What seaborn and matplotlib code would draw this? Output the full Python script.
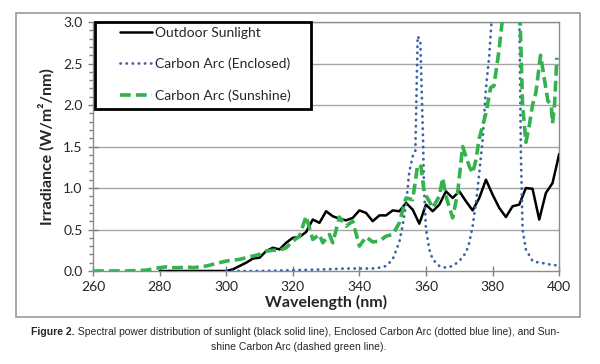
import matplotlib
matplotlib.use("Agg")
import matplotlib.pyplot as plt
import seaborn as sns
from matplotlib.patches import Rectangle
from matplotlib.ticker import MultipleLocator

# Outdoor sunlight
sun_nm = [280, 290, 300, 302, 304, 306, 308, 310, 312, 314, 316, 318, 320, 322, 324, 326,
          328, 330, 332, 334, 336, 338, 340, 342, 344, 346, 348, 350, 352, 354, 356, 358,
          360, 362, 364, 366, 368, 370, 372, 374, 376, 378, 380, 382, 384, 386, 388, 390,
          392, 394, 396, 398, 400]
sun_val = [0.0, 0.0, 0.0, 0.02, 0.06, 0.1, 0.15, 0.16, 0.24, 0.28, 0.26, 0.34, 0.4, 0.41, 0.47, 0.62,
           0.58, 0.72, 0.66, 0.63, 0.61, 0.64, 0.73, 0.7, 0.6, 0.67, 0.67, 0.73, 0.72, 0.82, 0.74, 0.57,
           0.8, 0.72, 0.8, 0.96, 0.88, 0.96, 0.84, 0.73, 0.88, 1.1, 0.92, 0.76, 0.65, 0.78, 0.8, 1.0,
           0.99, 0.62, 0.94, 1.06, 1.41]

# Enclosed carbon arc
enc_nm = [300, 310, 320, 330, 336, 340, 344, 346, 348, 350, 352, 353, 354, 355, 356, 356.8,
          357.5, 358.3, 359.1, 359.4, 360, 361, 362, 364, 366, 368, 370, 372, 373, 374, 375,
          376, 377, 378, 379, 380, 382, 384, 386, 388, 388.5, 389, 390, 392, 394, 396, 398, 399]
enc_val = [0.0, 0.0, 0.01, 0.02, 0.03, 0.03, 0.03, 0.04, 0.06, 0.14, 0.35, 0.55, 0.8, 1.2, 1.38, 1.45,
           2.83, 2.77, 1.6, 1.0, 0.5, 0.26, 0.14, 0.06, 0.04, 0.06, 0.12, 0.22, 0.34, 0.54, 0.82,
           1.18, 1.58, 2.2, 2.6, 3.2, 4.0, 4.5, 4.0, 3.2, 1.4, 0.5, 0.26, 0.12, 0.1, 0.09, 0.07, 0.07]

# Sunshine carbon arc
shn_nm = [260, 270, 276, 280, 282, 284, 286, 288, 290, 292, 294, 296, 298, 300, 302, 304,
          306, 308, 310, 312, 314, 316, 318, 320, 322, 324, 326, 328, 329, 331, 332, 334,
          336, 338, 340, 342, 344, 346, 348, 350, 352, 354, 356, 357.5, 358.5, 359.5, 361, 362,
          364, 365, 366, 368, 369.5, 371, 373, 374, 375, 376, 378, 379.4, 380.4, 381.9, 383,
          385, 388, 389, 390, 391, 392, 393, 394.4, 396, 396.6, 397.6, 398, 398.6, 399.3]
shn_val = [0.0, 0.0, 0.01, 0.04, 0.05, 0.04, 0.04, 0.05, 0.04, 0.05, 0.06, 0.08, 0.1, 0.12, 0.13, 0.14,
           0.16, 0.18, 0.2, 0.24, 0.25, 0.25, 0.28, 0.36, 0.42, 0.66, 0.38, 0.44, 0.34, 0.44, 0.34, 0.65,
           0.54, 0.6, 0.3, 0.41, 0.35, 0.36, 0.42, 0.44, 0.58, 0.88, 0.86, 1.28, 1.26, 0.94, 0.84, 0.76,
           0.9, 1.12, 0.9, 0.64, 0.94, 1.5, 1.26, 1.18, 1.34, 1.6, 1.9, 2.21, 2.23, 2.65, 3.05,
           3.5, 3.4, 2.0, 1.55, 1.75, 2.0, 2.15, 2.6, 2.2, 2.05, 2.0, 1.78, 2.0, 2.57]

ticks_x = [260, 280, 300, 320, 340, 360, 380, 400]
ticks_y = [0.0, 0.5, 1.0, 1.5, 2.0, 2.5, 3.0]

sns.set_style("white")
plt.rcParams['font.family'] = ['Lato', 'DejaVu Sans']

fig = plt.figure(figsize=(6, 3.64), dpi=100)
ax = fig.add_axes([0.155, 0.2555, 0.777, 0.684])

# outer chart border
fig.patches.append(Rectangle((0.027, 0.129), 0.940, 0.835, transform=fig.transFigure,
                             fill=False, edgecolor='#9a9a9a', lw=1.2, zorder=0))

for y in ticks_y[1:]:
    ax.axhline(y, color='#a6a6a6', lw=1, zorder=0)

sns.lineplot(x=sun_nm, y=sun_val, ax=ax, color='black', lw=1.8,
             label='Outdoor Sunlight', zorder=3)
sns.lineplot(x=enc_nm, y=enc_val, ax=ax, color='#3a62a6', lw=2.0,
             linestyle=(0, (0.1, 2.1)), dash_capstyle='round',
             label='Carbon Arc (Enclosed)', zorder=4)
sns.lineplot(x=shn_nm, y=shn_val, ax=ax, color='#33b24e', lw=2.6,
             linestyle=(0, (3.0, 1.4)), label='Carbon Arc (Sunshine)', zorder=5)

ax.set_xlim(260, 400)
ax.set_ylim(0, 3)
ax.set_xticks(ticks_x)
ax.set_yticks(ticks_y)
ax.set_yticklabels([f"{v:.1f}" for v in ticks_y])
ax.yaxis.set_minor_locator(MultipleLocator(0.1))
ax.tick_params(axis='both', which='major', direction='inout', length=7, width=1,
               color='#808080', labelsize=10, pad=4)
ax.tick_params(axis='y', which='minor', direction='out', length=3, width=1,
               color='#808080', left=True)
ax.tick_params(axis='x', which='major', bottom=True)
ax.tick_params(axis='y', which='major', left=True)

for s in ['left', 'bottom', 'right', 'top']:
    ax.spines[s].set_color('#8c8c8c')
    ax.spines[s].set_linewidth(1)

ax.set_xlabel('Wavelength (nm)', fontsize=11.5, fontweight='bold', labelpad=1)
ax.set_ylabel('Irradiance (W/m²/nm)', fontsize=11.5, fontweight='bold', labelpad=6)

# legend box
ax.add_patch(Rectangle((0.004, 0.65), 0.464, 0.35, transform=ax.transAxes,
                       facecolor='white', edgecolor='black', lw=2, zorder=6, clip_on=False))
leg = ax.legend(loc='upper left', bbox_to_anchor=(0.058, 0.98), frameon=False,
                borderpad=0, borderaxespad=0, handlelength=2.3, handletextpad=0.2,
                labelspacing=1.35, fontsize=10)
leg.set_zorder(7)

# caption
fig.canvas.draw()
r = fig.canvas.get_renderer()
line1_b = "Figure 2."
line1_r = " Spectral power distribution of sunlight (black solid line), Enclosed Carbon Arc (dotted blue line), and Sun-"
cap = dict(fontsize=7.45, family=['Liberation Sans', 'DejaVu Sans'], va='center')
tb = fig.text(0.052, 0.088, line1_b, fontweight='bold', **cap)
tr = fig.text(0, 0.088, line1_r, **cap)
wb = tb.get_window_extent(r).width
tr.set_x(0.052 + wb / 600)
fig.text(0.498, 0.047, "shine Carbon Arc (dashed green line).", ha='center', **cap)

fig.savefig('out.png', dpi=100)
